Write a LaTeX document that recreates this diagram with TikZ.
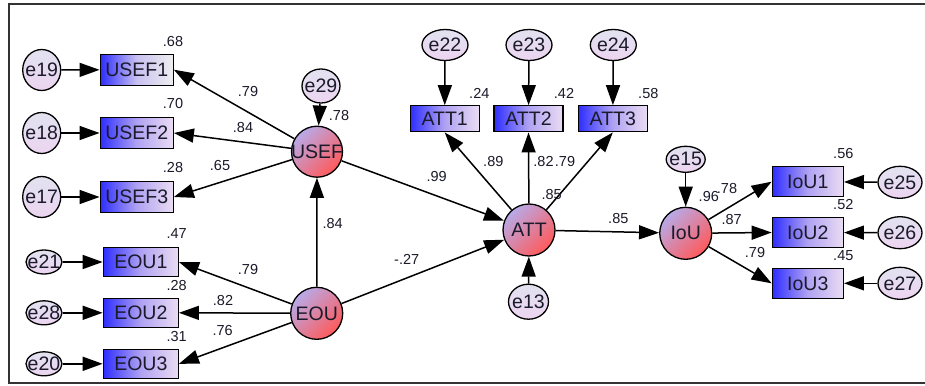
\documentclass[tikz,border=0pt]{standalone}
\usepackage{fontspec}
\setmainfont{Liberation Sans}
\usetikzlibrary{arrows.meta,shapes.geometric,shadings}
\definecolor{boxblue}{HTML}{2E2EFF}
\definecolor{boxmid}{HTML}{B0A2F2}
\definecolor{boxlight}{HTML}{EADCF2}
\definecolor{boxgray}{HTML}{EEEEEE}
\definecolor{latA}{HTML}{B8AAE8}
\definecolor{latB}{HTML}{FF5A5A}
\definecolor{errA}{HTML}{E2E2F0}
\definecolor{errB}{HTML}{ECD4F0}
\definecolor{framec}{HTML}{333333}
\definecolor{txt}{HTML}{1A1A2A}
\tikzset{
  nodefont/.style={font=\fontsize{19.5}{20}\selectfont, text=txt},
  obs/.style={rectangle, draw, line width=1.3pt, inner sep=0pt, nodefont,
    left color=boxblue, right color=boxlight, middle color=boxmid},
  lat/.style={circle, draw, line width=1.3pt, inner sep=0pt, minimum size=52pt, nodefont,
    top color=latA, bottom color=latB, shading angle=45},
  err/.style={ellipse, draw, line width=1.3pt, inner sep=0pt, nodefont,
    top color=errA, bottom color=errB},
  lab/.style={inner sep=0pt, font=\fontsize{14.5}{15}\selectfont, text=txt},
  arr/.style={draw, line width=1.5pt, -{Triangle[length=20pt,width=14pt]}},
}
\begin{document}
\begin{tikzpicture}[x=1pt,y=-1pt]
\useasboundingbox (0,0) rectangle (925,385);
\fill[white] (0,0) rectangle (925,385);
% frame (right side runs off the picture)
\draw[framec, line width=2pt] (925,4.5) -- (8.5,4.5) -- (8.5,383) -- (925,383);

% error terms left
\node[err, minimum width=38pt, minimum height=41pt] (e19) at (41.7,70) {\makebox[0pt]{e19}};
\node[err, minimum width=38pt, minimum height=41pt] (e18) at (41.7,133) {\makebox[0pt]{e18}};
\node[err, minimum width=38pt, minimum height=41pt] (e17) at (41.7,197) {\makebox[0pt]{e17}};
\node[err, minimum width=36pt, minimum height=24pt] (e21) at (44,262) {\makebox[0pt]{e21}};
\node[err, minimum width=36pt, minimum height=24pt] (e28) at (44,312.8) {\makebox[0pt]{e28}};
\node[err, minimum width=36pt, minimum height=24pt] (e20) at (44,363.8) {\makebox[0pt]{e20}};

% observed left
\node[obs, minimum width=73pt, minimum height=31pt, right color=boxgray, middle color=boxmid!60!boxgray] (u1) at (136.7,69.7) {USEF1};
\node[obs, minimum width=73pt, minimum height=31pt] (u2) at (136.7,133) {USEF2};
\node[obs, minimum width=73pt, minimum height=31pt] (u3) at (136.7,197) {USEF3};
\node[obs, minimum width=75pt, minimum height=29pt] (o1) at (140.8,262) {EOU1};
\node[obs, minimum width=75pt, minimum height=29pt] (o2) at (140.8,312.8) {EOU2};
\node[obs, minimum width=75pt, minimum height=29pt] (o3) at (140.8,363.8) {EOU3};

% latent
\node[lat, minimum size=51pt] (usef) at (317,151.7) {\makebox[0pt]{USEF}};
\node[lat] (eou) at (316.7,313.3) {\makebox[0pt]{EOU}};
\node[lat] (att) at (529,230) {\makebox[0pt]{ATT}};
\node[lat] (iou) at (685.7,233.3) {\makebox[0pt]{IoU}};

\node[err, minimum width=38pt, minimum height=34pt] (e29) at (321,86) {\makebox[0pt]{e29}};
\node[err, minimum width=40pt, minimum height=35pt] (e13) at (528.5,301.7) {\makebox[0pt]{e13}};
\node[err, minimum width=39pt, minimum height=26pt] (e15) at (685.7,159.3) {\makebox[0pt]{e15}};

% ATT indicators
\node[err, minimum width=46pt, minimum height=31pt] (e22) at (445,45) {\makebox[0pt]{e22}};
\node[err, minimum width=46pt, minimum height=31pt] (e23) at (529,45) {\makebox[0pt]{e23}};
\node[err, minimum width=46pt, minimum height=31pt] (e24) at (613.3,45) {\makebox[0pt]{e24}};
\node[obs, minimum width=69pt, minimum height=26pt] (a1) at (444.7,118.8) {ATT1};
\node[obs, minimum width=69pt, minimum height=26pt] (a2) at (528.5,118.8) {ATT2};
\node[obs, minimum width=69pt, minimum height=26pt] (a3) at (612.8,118.8) {ATT3};

% IoU indicators
\node[obs, minimum width=71pt, minimum height=30pt] (i1) at (807.8,181.7) {IoU1};
\node[obs, minimum width=71pt, minimum height=30pt] (i2) at (807.8,232.5) {IoU2};
\node[obs, minimum width=71pt, minimum height=30pt] (i3) at (807.8,283.3) {IoU3};
\node[err, minimum width=44pt, minimum height=32pt] (e25) at (900,182.3) {\makebox[0pt]{e25}};
\node[err, minimum width=44pt, minimum height=32pt] (e26) at (900,232.7) {\makebox[0pt]{e26}};
\node[err, minimum width=44pt, minimum height=32pt] (e27) at (900,283.3) {\makebox[0pt]{e27}};

% arrows
\draw[arr] (e19) -- (u1);
\draw[arr] (e18) -- (u2);
\draw[arr] (e17) -- (u3);
\draw[arr] (e21) -- (o1);
\draw[arr] (e28) -- (o2);
\draw[arr] (e20) -- (o3);
\draw[arr] (usef) -- (u1.east);
\draw[arr] (usef) -- (u2.east);
\draw[arr] (usef) -- (u3.east);
\draw[arr] (eou) -- (o1.east);
\draw[arr] (eou) -- (o2.east);
\draw[arr] (eou) -- (o3.east);
\draw[arr] (e29) -- (usef);
\draw[arr] (eou) -- (usef);
\draw[arr] (usef) -- (att);
\draw[arr] (eou) -- (att);
\draw[arr] (e13) -- (att);
\draw[arr] (att) -- (a1.south);
\draw[arr] (att) -- (a2.south);
\draw[arr] (att) -- (a3.south);
\draw[arr] (e22) -- (a1);
\draw[arr] (e23) -- (a2);
\draw[arr] (e24) -- (a3);
\draw[arr] (att) -- (iou);
\draw[arr] (e15) -- (iou);
\draw[arr] (iou) -- (i1.west);
\draw[arr] (iou) -- (i2.west);
\draw[arr] (iou) -- (i3.west);
\draw[arr] (e25) -- (i1);
\draw[arr] (e26) -- (i2);
\draw[arr] (e27) -- (i3);

% labels
\node[lab] (l1) at (173,41.7) {.68};
\node[lab] (l2) at (173,104) {.70};
\node[lab] (l3) at (173,168) {.28};
\node[lab] (l4) at (248,92) {.79};
\node[lab] (l5) at (243,128) {.84};
\node[lab] (l6) at (220,166) {.65};
\node[lab] (l7) at (339,116) {.78};
\node[lab] (l8) at (176.7,233.3) {.47};
\node[lab] (l9) at (176.7,285.7) {.28};
\node[lab] (l10) at (176.7,336.7) {.31};
\node[lab] (l11) at (248,270) {.79};
\node[lab] (l12) at (223,301) {.82};
\node[lab] (l13) at (222.7,330.7) {.76};
\node[lab] (l14) at (332.7,223.3) {.84};
\node[lab] (l15) at (436.7,176.7) {.99};
\node[lab] (l16) at (406.7,259) {-.27};
\node[lab] (l17) at (479.3,93.3) {.24};
\node[lab] (l18) at (564,93.3) {.42};
\node[lab] (l19) at (648.3,93.3) {.58};
\node[lab] (l20) at (493.3,161.7) {.89};
\node[lab] (l21) at (543.5,161.7) {.82};
\node[lab] (l22) at (565,161.7) {.79};
\node[lab] (l23) at (551.7,195) {.85};
\node[lab] (l24) at (618.3,218.3) {.85};
\node[lab] (l25) at (843.3,153.3) {.56};
\node[lab] (l26) at (843.3,205) {.52};
\node[lab] (l27) at (843.3,256) {.45};
\node[lab] (l28) at (708.8,196.7) {.96};
\node[lab] (l29) at (727,188.3) {.78};
\node[lab] (l30) at (731.7,220) {.87};
\node[lab] (l31) at (755,252.7) {.79};
\end{tikzpicture}
\end{document}
